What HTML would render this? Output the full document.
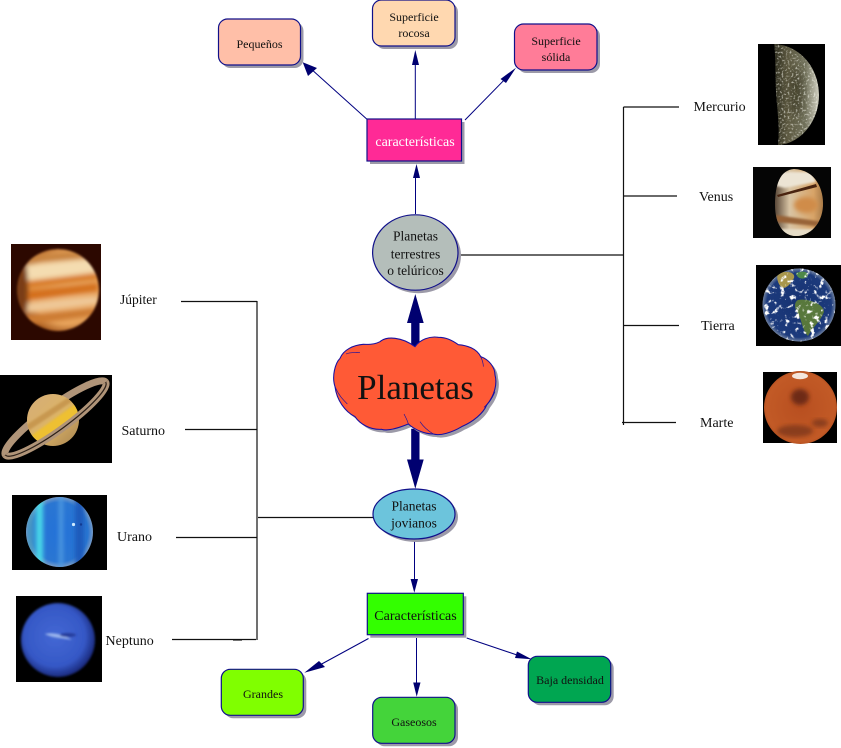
<!DOCTYPE html>
<html><head><meta charset="utf-8"><style>
html,body{margin:0;padding:0;background:#fff;width:841px;height:748px;overflow:hidden}
svg{display:block}
text{font-family:"Liberation Serif",serif;fill:#111}
.s12{font-size:12px}.s13{font-size:13.5px}.s14{font-size:14px}
.m{text-anchor:middle}
.k{stroke:#111;stroke-width:1.2;fill:none}
.n{stroke:#000080;stroke-width:1;fill:none}
.h{fill:#000070}
.sh{fill:#9c9aa8}
.b{stroke:#10108a;stroke-width:1.2}
</style></head><body>
<svg width="841" height="748" viewBox="0 0 841 748" xmlns="http://www.w3.org/2000/svg">
<defs>
<filter id="b1" x="-20%" y="-20%" width="140%" height="140%"><feGaussianBlur stdDeviation="1"/></filter>
<filter id="b2" x="-20%" y="-20%" width="140%" height="140%"><feGaussianBlur stdDeviation="2.2"/></filter>
<filter id="b3" x="-40%" y="-40%" width="180%" height="180%"><feGaussianBlur stdDeviation="4"/></filter>
<filter id="spk" x="0" y="0" width="100%" height="100%"><feTurbulence type="fractalNoise" baseFrequency="0.5" numOctaves="2" seed="4"/><feColorMatrix values="0 0 0 0 1  0 0 0 0 1  0 0 0 0 .92  4 0 0 0 -2.1"/></filter>
<filter id="cl" x="0" y="0" width="100%" height="100%"><feTurbulence type="fractalNoise" baseFrequency="0.2" numOctaves="3" seed="9"/><feColorMatrix values="0 0 0 0 1  0 0 0 0 1  0 0 0 0 1  6 0 0 0 -3.4"/></filter>
<radialGradient id="gJ" cx=".6" cy=".48" r=".6"><stop offset="0" stop-color="#ecb070"/><stop offset=".72" stop-color="#e8a45c"/><stop offset=".92" stop-color="#a85c20"/><stop offset="1" stop-color="#6a2e0c"/></radialGradient>
<linearGradient id="gS" x1="0" y1="0" x2="1" y2="1"><stop offset="0" stop-color="#d4ac78"/><stop offset=".5" stop-color="#dcb468"/><stop offset="1" stop-color="#a88450"/></linearGradient>
<radialGradient id="gU" cx=".5" cy=".5" r=".52"><stop offset="0" stop-color="#2472d8"/><stop offset=".82" stop-color="#2a76d2"/><stop offset="1" stop-color="#8aa4c4"/></radialGradient>
<radialGradient id="gN" cx=".46" cy=".45" r=".58"><stop offset="0" stop-color="#4468d4"/><stop offset=".7" stop-color="#3558c6"/><stop offset="1" stop-color="#162270"/></radialGradient>
<linearGradient id="gV" x1="0" y1="0" x2="1" y2="0"><stop offset="0" stop-color="#5a4838"/><stop offset=".3" stop-color="#d8c4a4"/><stop offset=".8" stop-color="#d8a468"/><stop offset="1" stop-color="#a87a48"/></linearGradient>
<radialGradient id="gE" cx=".5" cy=".5" r=".52"><stop offset="0" stop-color="#163272"/><stop offset=".85" stop-color="#1c3a7c"/><stop offset="1" stop-color="#8a98ac"/></radialGradient>
<radialGradient id="gM" cx=".5" cy=".5" r=".55"><stop offset="0" stop-color="#b84f20"/><stop offset=".85" stop-color="#c25a26"/><stop offset="1" stop-color="#a8481c"/></radialGradient>
<linearGradient id="gMe" x1="0" y1="0" x2="1" y2="0"><stop offset="0" stop-color="#1c1c10"/><stop offset=".35" stop-color="#5c5840"/><stop offset=".7" stop-color="#70705a"/><stop offset="1" stop-color="#d8d6c8"/></linearGradient>
<clipPath id="cJ"><circle cx="58" cy="290" r="41"/></clipPath>
<clipPath id="cS"><circle cx="53" cy="420" r="26"/></clipPath>
<clipPath id="cU"><ellipse cx="59.5" cy="532" rx="33.5" ry="35"/></clipPath>
<clipPath id="cN"><circle cx="58" cy="640" r="37"/></clipPath>
<clipPath id="cV"><path d="M794 169C816 170 824 190 823 206 822 224 810 236 796 236 784 236 775 225 775 205 775 185 780 170 794 169Z"/></clipPath>
<clipPath id="cE"><circle cx="799" cy="305" r="36.5"/></clipPath>
<clipPath id="cM"><circle cx="800.5" cy="407.5" r="36.5"/></clipPath>
<clipPath id="cMe"><path d="M774 44C800 45 819 68 819 95 819 122 800 144 778 145 780 128 777 108 776 92 775 74 776 58 774 44Z"/></clipPath>
</defs>

<!-- Jupiter -->
<rect x="11" y="244" width="90" height="96" fill="#2c0800"/>
<g filter="url(#b1)">
<g clip-path="url(#cJ)">
<circle cx="58" cy="290" r="41" fill="url(#gJ)"/>
<g filter="url(#b2)">
<path d="M15 266L98 258 98 272 15 282Z" fill="#f4dcb0"/>
<path d="M15 283L98 273 98 279 15 290Z" fill="#d87a28"/>
<path d="M15 292L98 283 98 291 15 302Z" fill="#d4701f"/>
<path d="M15 304L98 296 98 304 15 314Z" fill="#eec898"/>
<path d="M20 316L98 308 98 315 20 326Z" fill="#cc7a30"/>
<path d="M18 256L90 250 90 258 18 264Z" fill="#c88440"/>
<ellipse cx="20" cy="290" rx="8" ry="40" fill="#7a3c12"/>
</g>
</g>
</g>
<!-- Saturn -->
<rect x="0" y="375" width="112" height="88" fill="#000"/>
<g transform="rotate(-36 55.5 418.5)">
<path d="M-6.5 418.5A62 12 0 0 1 117.5 418.5" fill="none" stroke="#b09478" stroke-width="7"/>
</g>
<circle cx="53" cy="420" r="26" fill="url(#gS)"/>
<g clip-path="url(#cS)" filter="url(#b1)"><path d="M28 438L78 402 80 414 36 446Z" fill="#eec030"/><path d="M26 425L72 395 76 399 28 431Z" fill="#c89850"/></g>
<g transform="rotate(-36 55.5 418.5)" fill="none">
<path d="M-6.5 418.5A62 12 0 0 0 117.5 418.5" stroke="#b09478" stroke-width="7"/>
<path d="M-6.5 418.5A62 12 0 0 0 117.5 418.5" stroke="#2c2018" stroke-width="1.2"/>
</g>
<!-- Uranus -->
<rect x="12" y="495" width="95" height="75" fill="#000"/>
<ellipse cx="59.5" cy="532" rx="33.5" ry="35" fill="url(#gU)"/>
<g clip-path="url(#cU)" filter="url(#b2)">
<rect x="36" y="495" width="7" height="75" fill="#4ad8e8"/>
<rect x="28" y="495" width="5" height="75" fill="#4a9cc0"/>
<rect x="59" y="495" width="4" height="75" fill="#4f9ae0"/>
<rect x="75" y="495" width="9" height="75" fill="#1a5cbc"/>
</g>
<circle cx="73.5" cy="524.5" r="1.6" fill="#cfeaff"/><circle cx="81" cy="524.5" r="1.2" fill="#123a90"/>
<!-- Neptune -->
<rect x="16" y="596" width="86" height="86" fill="#000"/>
<circle cx="58" cy="640" r="37" fill="url(#gN)" filter="url(#b1)"/>
<g clip-path="url(#cN)" filter="url(#b1)">
<path d="M45 634C52 632 62 634 72 640 62 638 52 638 45 634Z" fill="#9ab4ec"/>
<ellipse cx="68" cy="635" rx="8" ry="2" fill="#263c9c"/>
</g>
<!-- Mercury -->
<rect x="758" y="44" width="67" height="101" fill="#000"/>
<g clip-path="url(#cMe)">
<rect x="770" y="44" width="50" height="101" fill="url(#gMe)"/>
<ellipse cx="796" cy="92" rx="6" ry="24" fill="#3e3a28" filter="url(#b3)" opacity=".8"/>
<rect x="770" y="44" width="50" height="101" filter="url(#spk)" opacity=".6"/>
</g>
<!-- Venus -->
<rect x="753" y="167" width="78" height="71" fill="#050505"/>
<path d="M794 169C816 170 824 190 823 206 822 224 810 236 796 236 784 236 775 225 775 205 775 185 780 170 794 169Z" fill="url(#gV)"/>
<g clip-path="url(#cV)">
<path d="M778 172H812L816 182 785 188 776 186Z" fill="#ece4d4" filter="url(#b1)"/>
<path d="M777 195L816 184 817 187 778 197Z" fill="#4a2410"/>
<path d="M776 215L824 222 824 227 776 222Z" fill="#986438" filter="url(#b1)"/>
<path d="M780 229H816V238H780Z" fill="#e6ddc8" filter="url(#b1)"/>
<ellipse cx="806" cy="205" rx="12" ry="8" fill="#d08c4a" filter="url(#b2)"/>
</g>
<!-- Earth -->
<rect x="756" y="265" width="85" height="81" fill="#000"/>
<circle cx="799" cy="305" r="36.5" fill="url(#gE)"/>
<g clip-path="url(#cE)">
<path d="M778 274C785 270 796 272 794 278 790 284 788 288 782 288 778 284 776 278 778 274Z" fill="#a8964c"/>
<path d="M796 273C804 270 810 272 807 277 803 280 797 279 796 273Z" fill="#4e8848"/>
<path d="M798 300C808 298 824 304 824 312 820 322 812 328 808 336 802 330 802 320 798 314 794 308 794 302 798 300Z" fill="#58783c"/>
<rect x="762" y="268" width="74" height="74" filter="url(#cl)"/>
</g>
<!-- Mars -->
<rect x="763" y="372" width="74" height="71" fill="#000"/>
<circle cx="800.5" cy="407.5" r="36.5" fill="url(#gM)"/>
<g clip-path="url(#cM)">
<ellipse cx="800" cy="397" rx="9" ry="8" fill="#6e2c18" filter="url(#b2)"/>
<ellipse cx="795" cy="431" rx="18" ry="6" fill="#8a3c1c" filter="url(#b2)"/>
<ellipse cx="820" cy="423" rx="8" ry="4" fill="#8a3c1c" filter="url(#b2)"/>
<ellipse cx="800" cy="376" rx="8" ry="3.2" fill="#f4e6dc"/>
</g>

<!-- black connectors -->
<path class="k" d="M459 255H623.5M623.5 107V425M623.5 107H679M623.5 196H677M623.5 325.5H679M622 422.5H676"/>
<path class="k" d="M181 301.5H257M257 301V640M185 429.5H257M176 537.5H257M172 639.5H256M258 517.5H373"/>
<rect x="233" y="639" width="9" height="1.6" fill="#111"/>

<!-- navy connectors -->
<path class="n" d="M366.7 119L310 68M415.3 119V55M465 120L512 72M415.5 214V172M414.5 539V582M368.5 638.5L318 666M416.5 638V684M466.7 638L520 656"/>
<path class="h" d="M302.7 62.3L317 68 308 76Z"/>
<path class="h" d="M415.3 50L419 65H412Z"/>
<path class="h" d="M516 67.7L506 83 500.5 79Z"/>
<path class="h" d="M416.5 164L420 178H413Z"/>
<path class="h" d="M414.3 592.7L410.6 579H418Z"/>
<path class="h" d="M304.3 672.7L319 661 325 667Z"/>
<path class="h" d="M416.7 696.7L413.2 682.5H420.5Z"/>
<path class="h" d="M531.7 659.3L517 651.5 515 658Z"/>

<!-- thick arrows -->
<path class="h" d="M415.3 294L423.7 323H419.5V347H411.2V323H407Z"/>
<path class="h" d="M411.2 428.7H419.5V459.5H423.7L415.3 488.7 407 459.5H411.2Z"/>

<!-- top boxes -->
<rect class="sh" x="221.5" y="22" width="82" height="46" rx="9"/>
<rect class="b" x="218.5" y="19" width="82" height="46" rx="9" fill="#FFBFA8"/>
<rect class="sh" x="375.5" y="3" width="82.5" height="46" rx="9"/>
<rect class="b" x="372.5" y="0" width="82.5" height="46" rx="9" fill="#FFD8B0"/>
<rect class="sh" x="517.5" y="27" width="82.5" height="46" rx="9"/>
<rect class="b" x="514.5" y="24" width="82.5" height="46" rx="9" fill="#FF7C98"/>
<rect class="sh" x="370" y="122" width="94.5" height="42"/>
<rect class="b" x="367" y="119" width="94.5" height="42" fill="#FF2A96"/>

<!-- bottom boxes -->
<rect class="sh" x="370.3" y="596.3" width="96" height="41.4"/>
<rect class="b" x="367.3" y="593.3" width="96" height="41.4" fill="#33FF00"/>
<rect class="sh" x="224.3" y="672.3" width="82" height="46" rx="9"/>
<rect class="b" x="221.3" y="669.3" width="82" height="46" rx="9" fill="#80FF00"/>
<rect class="sh" x="375.7" y="700.3" width="82.3" height="46" rx="9"/>
<rect class="b" x="372.7" y="697.3" width="82.3" height="46" rx="9" fill="#44D43A"/>
<rect class="sh" x="531.3" y="659.3" width="82.4" height="46" rx="9"/>
<rect class="b" x="528.3" y="656.3" width="82.4" height="46" rx="9" fill="#00A651"/>

<!-- ellipses -->
<ellipse class="sh" cx="418.3" cy="255.5" rx="42.7" ry="37.7"/>
<ellipse class="b" cx="415.3" cy="252.5" rx="42.7" ry="37.7" fill="#B4BEBA"/>
<ellipse class="sh" cx="417" cy="517" rx="41" ry="25"/>
<ellipse class="b" cx="414" cy="514" rx="41" ry="25" fill="#6CC4DC"/>

<!-- cloud -->
<g transform="translate(320 200) scale(.33333)">
<path class="sh" transform="translate(9 9)" d="M285 440C300 418 330 408 355 412 378 412 395 420 415 434 440 436 470 445 482 470 505 478 525 500 525 525 532 550 525 585 500 615 490 640 460 665 425 680 395 698 360 708 340 702 315 702 285 690 265 672 240 682 205 695 185 688 150 690 120 672 105 650 75 635 50 600 45 560 35 530 45 490 60 475 70 450 100 435 130 433 160 434 170 430 180 425 200 408 245 410 285 440Z"/>
<path fill="#FF5A36" stroke="#1a10a0" stroke-width="3.2" d="M285 440C300 418 330 408 355 412 378 412 395 420 415 434 440 436 470 445 482 470 505 478 525 500 525 525 532 550 525 585 500 615 490 640 460 665 425 680 395 698 360 708 340 702 315 702 285 690 265 672 240 682 205 695 185 688 150 690 120 672 105 650 75 635 50 600 45 560 35 530 45 490 60 475 70 450 100 435 130 433 160 434 170 430 180 425 200 408 245 410 285 440Z"/>
<path fill="none" stroke="#1a10a0" stroke-width="2" d="M78 462C90 456 105 458 120 458M482 470C486 478 490 490 490 500M45 560C55 585 70 600 82 612M525 575C515 600 505 610 492 622M265 672C262 660 256 650 252 642M340 702C320 690 310 680 300 665"/>
</g>

<!-- texts -->
<text class="m" x="415.5" y="399" style="font-size:35px">Planetas</text>
<text class="s12 m" x="259.5" y="48">Pequeños</text>
<text class="s12 m" x="414" y="21">Superficie</text>
<text class="s12 m" x="414" y="37">rocosa</text>
<text class="s12 m" x="556" y="45">Superficie</text>
<text class="s12 m" x="556" y="61">sólida</text>
<text class="s14 m" x="415" y="146" style="fill:#fff">características</text>
<text class="s13 m" x="415.5" y="240.7">Planetas</text>
<text class="s13 m" x="415.5" y="258.5">terrestres</text>
<text class="s13 m" x="415.5" y="275">o telúricos</text>
<text class="s13 m" x="414" y="510.7">Planetas</text>
<text class="s13 m" x="414" y="527.3">jovianos</text>
<text class="s14 m" x="415.5" y="620">Características</text>
<text class="s12 m" x="263" y="698">Grandes</text>
<text class="s12 m" x="414" y="726">Gaseosos</text>
<text class="s12 m" x="570" y="684">Baja densidad</text>
<text class="s13" x="120" y="304">Júpiter</text>
<text class="s14" x="121.5" y="435">Saturno</text>
<text class="s14" x="117" y="541">Urano</text>
<text class="s14" x="105.5" y="645">Neptuno</text>
<text class="s14" x="693.5" y="111">Mercurio</text>
<text class="s14" x="699" y="201">Venus</text>
<text class="s14" x="701" y="330">Tierra</text>
<text class="s14" x="700" y="427">Marte</text>
</svg>
</body></html>
